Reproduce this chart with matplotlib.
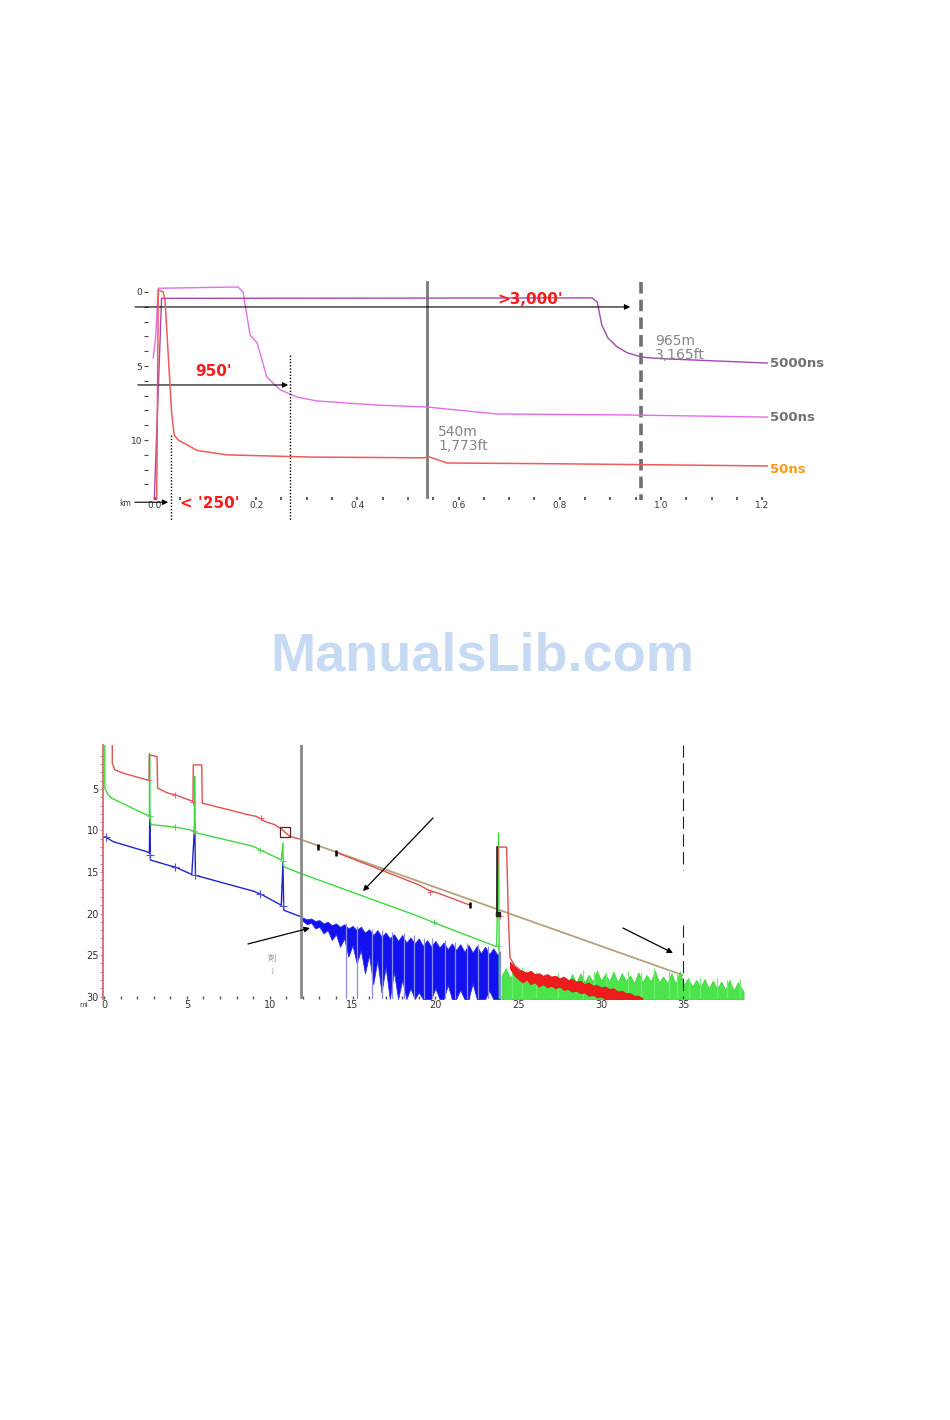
import numpy as np
import matplotlib
matplotlib.use('Agg')
import matplotlib.pyplot as plt

# ---------------- data: top chart (km vs dB) ----------------
ns50_km = [0.0034, 0.0065, 0.0164, 0.0198, 0.033, 0.038, 0.046, 0.083, 0.142, 0.306, 0.53, 0.543, 0.556, 0.577, 0.787, 1.21]
ns50_db = [14.05, -0.14, 0.0, 0.54, 8.2, 9.66, 10.0, 10.7, 11.0, 11.15, 11.2, 11.15, 11.3, 11.55, 11.6, 11.75]

ns500_km = [-0.0034, 0.0014, 0.0065, 0.164, 0.174, 0.188, 0.202, 0.221, 0.247, 0.281, 0.32, 0.439, 0.538, 0.676, 0.919, 1.21]
ns500_db = [4.46, 3.02, -0.25, -0.34, 0.0, 2.9, 3.45, 5.74, 6.6, 7.1, 7.36, 7.64, 7.77, 8.24, 8.3, 8.45]

ns5000_km = [-0.0014, 0.013, 0.864, 0.874, 0.883, 0.895, 0.913, 0.933, 0.962, 0.998, 1.21]
ns5000_db = [14.05, 0.43, 0.4, 0.68, 2.23, 3.1, 3.7, 4.1, 4.4, 4.5, 4.8]

top_xticks = [0.0, 0.2, 0.4, 0.6, 0.8, 1.0, 1.2]
top_xlabels = ['0.0', '0.2', '0.4', '0.6', '0.8', '1.0', '1.2']
top_yticks = [0, 5, 10]
trace_names = ['5000ns', '500ns', '50ns']
trace_label_db = [4.85, 8.5, 12.0]
cursor_a_km, cursor_b_km = 0.538, 0.96
dotted_km = [0.032, 0.267]
dotted_top_db = [9.66, 4.26]

# ---------------- data: bottom chart (mi vs dB) ----------------
red_mi = [0.5, 0.5, 0.66, 1.17, 2.6, 2.72, 2.74, 3.2, 3.24, 3.86, 4.3, 5.37, 5.39, 5.9, 5.93, 8.7, 9.2, 9.7, 10.3, 10.7, 11.2, 11.95,
          np.nan, 14.1, 19.07, 19.6, 20.1, 22.1, np.nan, 23.7, 23.8, 24.3, 24.4, 24.5, 24.8, 25.1]
red_db = [-0.3, 1.9, 2.7, 3.1, 3.9, 3.9, 0.9, 1.1, 4.9, 5.5, 5.7, 6.5, 2.1, 2.1, 6.7, 8.1, 8.3, 8.9, 9.3, 9.8, 10.7, 11.1,
          np.nan, 12.7, 16.6, 17.2, 17.5, 19.0, np.nan, 19.9, 12.0, 12.0, 20.0, 25.3, 26.3, 26.8]

green_mi = [0.05, 0.05, 0.25, 0.45, 2.55, 2.74, 2.75, 2.77, 2.85, 3.9, 4.3, 5.15, 5.45, 5.47, 5.5, 5.6, 9.0, 9.5, 10.7,
            10.8, 10.82, 10.9, 11.9, 19.07, 19.9, 23.7, 23.82, 23.86, 23.95]
green_db = [-0.3, 4.9, 5.7, 6.1, 8.1, 8.2, 0.7, 8.6, 9.3, 9.5, 9.6, 9.9, 10.1, 3.5, 10.3, 10.3, 11.9, 12.4, 13.55,
            11.5, 14.2, 14.4, 15.2, 20.4, 21.1, 24.0, 10.3, 30.3, 30.3]

blue_mi = [0.06, 0.56, 2.58, 2.74, 2.76, 2.8, 3.9, 4.3, 5.3, 5.48, 5.52, 9.0, 9.5, 10.7, 10.8, 10.85, 11.9]
blue_db = [10.75, 11.35, 12.55, 12.7, 8.5, 13.55, 14.2, 14.4, 15.3, 9.1, 15.4, 17.3, 17.7, 19.0, 13.8, 19.6, 20.4]

# blue backscatter noise envelope (12 - 24 mi)
bn_mi = [11.9, 12.0, 12.25, 12.5, 12.75, 13.0, 13.25, 13.5, 13.75, 14.0, 14.25, 14.5, 14.75, 15.0, 15.25, 15.5,
         15.75, 16.0, 16.25, 16.5, 16.75, 17.0, 17.25, 17.5, 17.75, 18.0, 18.25, 18.5, 18.75, 19.0, 19.25, 19.5,
         19.75, 20.0, 20.25, 20.5, 20.75, 21.0, 21.25, 21.5, 21.75, 22.0, 22.25, 22.5, 22.75, 23.0, 23.25, 23.5,
         23.75, 23.9]
bn_top = [20.4, 20.5, 20.7, 20.6, 20.9, 20.8, 21.2, 21.0, 21.4, 21.2, 21.6, 21.3, 21.8, 21.5, 22.0, 21.6,
          22.3, 21.9, 22.6, 22.0, 22.8, 22.3, 23.0, 22.5, 23.3, 22.6, 23.5, 22.9, 23.6, 23.0, 23.9, 23.2,
          24.0, 23.3, 24.1, 23.5, 24.3, 23.6, 24.4, 23.7, 24.6, 23.8, 24.7, 23.9, 24.8, 24.0, 24.9, 24.2,
          25.0, 24.6]
bn_bot = [20.8, 20.9, 21.3, 21.1, 21.8, 21.6, 22.4, 22.0, 23.2, 22.5, 24.0, 23.0, 25.2, 23.8, 26.0, 24.4,
          27.2, 25.0, 28.5, 25.6, 29.5, 26.4, 30.3, 27.0, 30.3, 28.0, 30.3, 29.0, 30.3, 29.5, 30.3, 30.3,
          30.3, 29.0, 30.3, 30.3, 28.6, 30.3, 30.3, 29.2, 30.3, 30.3, 28.4, 30.3, 30.3, 30.3, 29.3, 30.3,
          30.3, 30.3]
bspike_mi = [14.6, 15.3, 16.2, 16.8, 17.4, 18.1, 18.7, 19.3, 19.8, 20.6, 21.2, 21.9, 22.6, 23.2, 23.9]
bspike_db = [21.2, 21.5, 21.9, 22.0, 22.2, 22.3, 22.6, 22.9, 23.0, 23.2, 23.4, 23.6, 23.7, 23.9, 24.6]

# green noise envelope (24 - 38.6 mi)
gn_mi = [24.0, 24.25, 24.5, 24.75, 25.0, 25.25, 25.5, 25.75, 26.0, 26.25, 26.5, 26.75, 27.0, 27.25, 27.5, 27.75,
         28.0, 28.25, 28.5, 28.75, 29.0, 29.25, 29.5, 29.75, 30.0, 30.25, 30.5, 30.75, 31.0, 31.25, 31.5, 31.75,
         32.0, 32.25, 32.5, 32.75, 33.0, 33.25, 33.5, 33.75, 34.0, 34.25, 34.5, 34.75, 35.0, 35.25, 35.5, 35.75,
         36.0, 36.25, 36.5, 36.75, 37.0, 37.25, 37.5, 37.75, 38.0, 38.25, 38.6]
gn_top = [27.5, 26.6, 27.8, 26.9, 28.2, 27.0, 28.4, 27.6, 28.6, 27.4, 28.7, 27.9, 28.8, 27.5, 28.6, 27.8,
          28.5, 27.3, 28.4, 27.2, 28.3, 27.4, 28.2, 26.9, 28.1, 27.3, 28.2, 27.0, 28.3, 27.2, 28.1, 27.5,
          28.4, 27.1, 28.3, 27.4, 28.2, 26.9, 28.3, 27.6, 28.4, 27.2, 28.5, 27.0, 28.6, 27.8, 28.8, 28.0,
          28.9, 27.9, 29.0, 28.1, 29.1, 28.2, 29.2, 28.0, 29.3, 28.3, 29.4]
gspike_mi = [24.6, 25.2, 26.1, 27.4, 28.9, 29.6, 30.3, 31.6, 32.4, 33.2, 34.1, 34.6, 35.3, 36.0, 37.0, 37.6, 38.4]
gspike_db = [26.3, 26.5, 27.0, 27.2, 26.8, 27.1, 27.0, 26.9, 27.2, 26.6, 27.1, 27.0, 27.8, 27.6, 27.8, 28.0, 27.9]

# red noise band (24.5 - 32.5 mi)
rn_mi = [24.5, 24.75, 25.0, 25.25, 25.5, 25.75, 26.0, 26.25, 26.5, 26.75, 27.0, 27.25, 27.5, 27.75, 28.0, 28.25,
         28.5, 28.75, 29.0, 29.25, 29.5, 29.75, 30.0, 30.25, 30.5, 30.75, 31.0, 31.25, 31.5, 31.75, 32.0, 32.25, 32.5]
rn_top = [25.8, 26.3, 26.7, 26.9, 27.1, 26.9, 27.3, 27.2, 27.5, 27.3, 27.6, 27.5, 27.8, 27.6, 28.0, 27.9,
          28.2, 28.1, 28.5, 28.3, 28.7, 28.6, 28.9, 28.8, 29.1, 29.0, 29.4, 29.3, 29.6, 29.6, 29.9, 29.9, 30.2]
rn_bot = [26.6, 27.4, 27.9, 28.3, 28.0, 28.5, 28.3, 28.8, 28.5, 28.9, 28.7, 29.0, 28.8, 29.2, 29.1, 29.4,
          29.3, 29.6, 29.5, 29.9, 29.8, 30.1, 30.0, 30.3, 30.3, 30.3, 30.3, 30.3, 30.3, 30.3, 30.3, 30.3, 30.3]

fit_mi = [11.9, 34.9]
fit_db = [11.1, 27.4]
fit_tick_mi = [12.9, 14.0, 22.1]
fit_tick_db = [12.0, 12.7, 19.0]

ev_red_mi = [2.7, 4.3, 5.4, 9.5, 19.7, 23.9]
ev_red_db = [3.9, 5.7, 6.6, 8.5, 17.4, 20.3]
ev_green_mi = [2.75, 4.3, 5.45, 9.4, 10.8, 19.9, 23.8]
ev_green_db = [8.2, 9.6, 10.1, 12.3, 13.7, 21.0, 23.9]
ev_blue_mi = [0.15, 2.75, 4.3, 5.5, 9.4, 10.8]
ev_blue_db = [10.8, 13.0, 14.4, 15.4, 17.6, 19.1]

bot_xticks = [0, 5, 10, 15, 20, 25, 30, 35]
bot_yticks = [5, 10, 15, 20, 25, 30]
cursor_c_mi, cursor_d_mi = 11.9, 34.95

# ---------------- figure ----------------
W, H = 950, 1420
fig = plt.figure(figsize=(9.5, 14.2), dpi=100)
fig.patch.set_facecolor('white')


def rect(l, t, r, b):
    return [l / W, 1 - b / H, (r - l) / W, (b - t) / H]


def ftext(x, y, s, **kw):
    fig.text(x / W, 1 - y / H, s, **kw)


# ---------------- top chart ----------------
ax1 = fig.add_axes(rect(148, 280, 850, 500))
ax1.set_xlim(-0.0138, 1.3735)
ax1.set_ylim(14.05, -0.81)
for s in ax1.spines.values():
    s.set_visible(False)
ax1.set_xticks(top_xticks)
ax1.set_xticklabels(top_xlabels)
ax1.set_xticks(np.arange(0, 1.25, 0.05), minor=True)
ax1.set_yticks(top_yticks)
ax1.set_yticks(np.arange(0, 14, 1), minor=True)
ax1.tick_params(axis='x', which='both', direction='in', length=2, width=1.2, color='#444', labelsize=6.5, pad=1, labelcolor='#333')
ax1.tick_params(axis='y', which='both', direction='out', length=3, width=0.8, color='#444', labelsize=6.5, pad=1, labelcolor='#333')

ax1.plot(ns500_km, ns500_db, color='#e46ce8', lw=1.0, zorder=3)
ax1.plot(ns5000_km, ns5000_db, color='#a04aae', lw=1.0, zorder=3)
ax1.plot(ns50_km, ns50_db, color='#f05a5a', lw=1.1, zorder=4)

ax1.plot([cursor_a_km, cursor_a_km], [-0.68, 13.85], color='#7a7a7a', lw=2.0, zorder=2)
ax1.plot([cursor_b_km, cursor_b_km], [-0.68, 14.05], color='#707070', lw=2.6, zorder=2, dashes=(3.2, 1.7))
for k, t in zip(dotted_km, dotted_top_db):
    ax1.plot([k, k], [t, 15.5], color='black', lw=1.0, ls=(0, (1, 1.3)), clip_on=False, zorder=5)

arrow = dict(arrowstyle='-|>', lw=0.8, color='black', mutation_scale=8, shrinkA=0, shrinkB=0)
ax1.annotate('', xy=(0.939, 1.01), xytext=(-0.0395, 1.01), arrowprops=arrow, annotation_clip=False)
ax1.annotate('', xy=(0.263, 6.28), xytext=(-0.034, 6.28), arrowprops=arrow, annotation_clip=False)
ax1.annotate('', xy=(0.026, 14.2), xytext=(-0.04, 14.2), arrowprops=arrow, annotation_clip=False)

ftext(530, 300, ">3,000'", ha='center', va='center', fontsize=11, color='#ff1a1a', fontweight='bold')
ftext(214, 372, "950'", ha='center', va='center', fontsize=11, color='#ff1a1a', fontweight='bold')
ftext(210, 503, "< '250'", ha='center', va='center', fontsize=11, color='#ff1a1a', fontweight='bold')
ftext(438, 432, '540m', ha='left', va='center', fontsize=10, color='#858585')
ftext(438, 446, '1,773ft', ha='left', va='center', fontsize=10, color='#858585')
ftext(655, 341, '965m', ha='left', va='center', fontsize=10, color='#858585')
ftext(655, 355, '3,165ft', ha='left', va='center', fontsize=10, color='#858585')
name_colors = ['#707078', '#707078', '#ff9a10']
for nm, d, c in zip(trace_names, trace_label_db, name_colors):
    ax1.text(1.215, d, nm, ha='left', va='center', fontsize=9.5, color=c, fontweight='bold', clip_on=False)
ftext(125, 504, 'km', ha='center', va='center', fontsize=5.5, color='#333')

# ---------------- watermark ----------------
ftext(482, 657, 'ManualsLib.com', ha='center', va='center', fontsize=39, fontweight='bold',
      color='#c6daf3', family='Liberation Sans')

# ---------------- bottom chart ----------------
ax2 = fig.add_axes(rect(103, 745, 750, 999))
ax2.set_xlim(-0.06, 38.99)
ax2.set_ylim(30.3, -0.3)
for n, s in ax2.spines.items():
    s.set_visible(n == 'left')
ax2.spines['left'].set_color('#d86a6a')
ax2.spines['left'].set_linewidth(1.3)
ax2.set_xticks(bot_xticks)
ax2.set_xticks(np.arange(0, 39, 1), minor=True)
ax2.set_yticks(bot_yticks)
ax2.set_yticks(np.arange(1, 31, 1), minor=True)
ax2.tick_params(axis='x', which='both', direction='in', length=2, width=1.0, color='#555', labelsize=7, pad=1, labelcolor='#333')
ax2.tick_params(axis='y', which='both', direction='out', length=2, width=0.6, color='#888', labelsize=7, pad=1, labelcolor='#333')

ax2.plot(fit_mi, fit_db, color='#b4a27e', lw=1.3, zorder=2)
ax2.fill_between(bn_mi, bn_top, bn_bot, color='#1212f0', lw=0.6, edgecolor='#2a2af0', zorder=3)
ax2.vlines(bspike_mi, bspike_db, 30.3, color='#8a8ae8', lw=0.9, zorder=3)
ax2.fill_between(gn_mi, gn_top, 30.3, color='#4ce44c', lw=0.6, edgecolor='#3cd83c', zorder=3)
ax2.vlines(gspike_mi, gspike_db, 30.3, color='#70ec70', lw=0.9, zorder=3)
ax2.fill_between(rn_mi, rn_top, rn_bot, color='#ee1c1c', lw=0.6, edgecolor='#e01818', zorder=4)

ax2.plot(blue_mi, blue_db, color='#2222cc', lw=1.0, zorder=5)
ax2.plot(green_mi, green_db, color='#3ed83e', lw=1.0, zorder=5)
ax2.plot(red_mi, red_db, color='#e05050', lw=1.0, zorder=6)
ax2.plot([23.75, 23.75], [12.0, 20.0], color='#222', lw=1.2, zorder=6)

ax2.plot(ev_red_mi, ev_red_db, ls='none', marker='+', ms=5, mew=0.8, color='#e07070', zorder=7)
ax2.plot(ev_green_mi, ev_green_db, ls='none', marker='+', ms=5, mew=0.8, color='#60d060', zorder=7)
ax2.plot(ev_blue_mi, ev_blue_db, ls='none', marker='+', ms=6, mew=0.8, color='#5050d0', zorder=7)
ax2.plot(fit_tick_mi, fit_tick_db, ls='none', marker='|', ms=4, mew=1.8, color='black', zorder=7)
ax2.plot([10.9], [10.2], ls='none', marker='s', ms=6.5, mfc='none', mec='#602020', mew=0.9, zorder=7)
ax2.plot([23.8], [20.0], ls='none', marker='s', ms=3, color='#222', zorder=7)

ax2.plot([cursor_c_mi, cursor_c_mi], [-0.3, 30.3], color='#888888', lw=2.0, zorder=8)
ax2.plot([cursor_d_mi, cursor_d_mi], [-0.3, 14.8], color='#222', lw=0.8, dashes=(11, 5), zorder=8)
ax2.plot([cursor_d_mi, cursor_d_mi], [21.4, 30.3], color='#222', lw=0.8, dashes=(11, 5), zorder=8)

arrow2 = dict(arrowstyle='-|>', lw=0.9, color='black', mutation_scale=8, shrinkA=0, shrinkB=0)
ax2.annotate('', xy=(15.63, 17.3), xytext=(19.86, 8.49), arrowprops=arrow2, zorder=9)
ax2.annotate('', xy=(12.43, 21.75), xytext=(8.69, 23.67), arrowprops=arrow2, zorder=9)
ax2.annotate('', xy=(34.34, 24.76), xytext=(31.32, 21.75), arrowprops=arrow2, zorder=9)

ftext(272, 958, '剤', ha='center', va='center', fontsize=6, color='#999', family=['Noto Sans CJK JP', 'DejaVu Sans'])
ftext(272, 971, 'J', ha='center', va='center', fontsize=5, color='#999')
ftext(84, 1005, 'mi', ha='center', va='center', fontsize=5, color='#333')

fig.savefig('out.png', dpi=100, facecolor='white')
